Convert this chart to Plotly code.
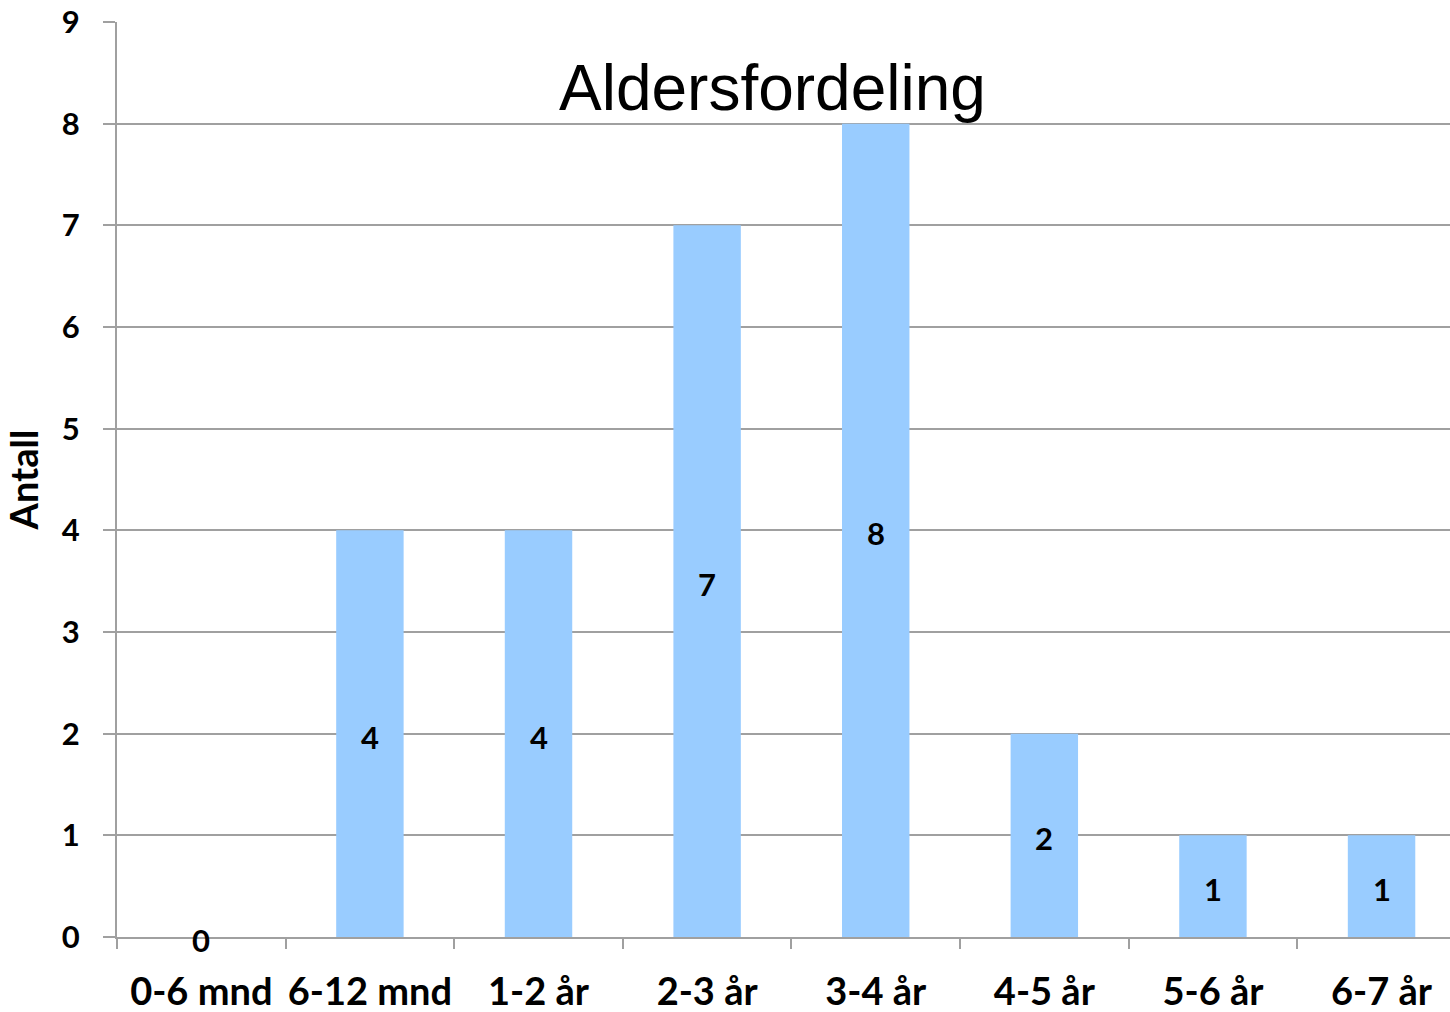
import plotly.graph_objects as go

# Age groups and number of children in each
categories = ["0-6 mnd", "6-12 mnd", "1-2 år", "2-3 år", "3-4 år", "4-5 år", "5-6 år", "6-7 år"]
counts = [0, 4, 4, 7, 8, 2, 1, 1]
y_ticks = [0, 1, 2, 3, 4, 5, 6, 7, 8, 9]

title_text = "Aldersfordeling"
y_title = "Antall"

grid_color = "#A0A0A0"
bar_color = "#99CCFF"
bold_font = "Lato"

fig = go.Figure()

fig.add_trace(go.Bar(
    x=categories,
    y=counts,
    width=0.4,
    marker=dict(color=bar_color, line=dict(width=0)),
    hoverinfo="skip",
))

# Value labels centred vertically within each bar
value_labels = [
    dict(
        x=cat, y=c / 2, xref="x", yref="y",
        text=str(c), showarrow=False,
        xanchor="center", yanchor="middle", yshift=-3,
        font=dict(family=bold_font, size=31, color="black", weight="bold"),
    )
    for cat, c in zip(categories, counts)
]

title_annotation = dict(
    text=title_text,
    xref="paper", yref="paper",
    x=0.492, y=0.928,
    xanchor="center", yanchor="middle",
    showarrow=False,
    font=dict(family="Liberation Sans", size=64, color="black"),
)

fig.update_layout(
    width=1450,
    height=1012,
    margin=dict(l=117, r=0, t=22, b=75),
    paper_bgcolor="white",
    plot_bgcolor="white",
    showlegend=False,
    xaxis=dict(
        type="category",
        range=[-0.5, 7.406],
        automargin=False,
        tickangle=0,
        showgrid=False,
        showline=True,
        linecolor=grid_color,
        linewidth=2,
        ticks="outside",
        tickson="boundaries",
        ticklen=10,
        tickwidth=2,
        tickcolor=grid_color,
        tickfont=dict(family=bold_font, size=38, color="black", weight="bold"),
        ticklabelstandoff=20,
    ),
    yaxis=dict(
        range=[0, 9],
        tickvals=y_ticks,
        automargin=False,
        showgrid=True,
        gridcolor=grid_color,
        gridwidth=2,
        zeroline=False,
        showline=True,
        linecolor=grid_color,
        linewidth=2,
        ticks="outside",
        ticklen=12,
        tickwidth=2,
        tickcolor=grid_color,
        tickfont=dict(family=bold_font, size=31, color="black", weight="bold"),
        ticklabelstandoff=17,
        title=dict(text=y_title, font=dict(family=bold_font, size=38, color="black", weight="bold"), standoff=12),
    ),
    annotations=value_labels + [title_annotation],
)

fig.write_html("out.html")
